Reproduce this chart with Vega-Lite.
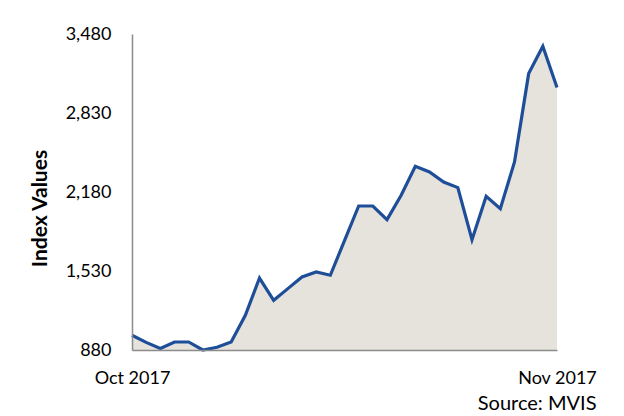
{
  "$schema": "https://vega.github.io/schema/vega-lite/v6.json",
  "width": 425,
  "height": 316,
  "autosize": "none",
  "padding": {"left": 132, "top": 34, "right": 67, "bottom": 66},
  "background": "white",
  "config": {"view": {"stroke": null}, "font": "Lato"},
  "title": {
    "text": "Source: MVIS",
    "orient": "bottom",
    "anchor": "end",
    "frame": "bounds",
    "font": "Lato",
    "fontSize": 20,
    "fontWeight": "normal",
    "color": "#000000",
    "offset": 7
  },
  "data": {
    "values": [
      {"i": 0, "value": 1001},
      {"i": 1, "value": 943},
      {"i": 2, "value": 892},
      {"i": 3, "value": 946},
      {"i": 4, "value": 946},
      {"i": 5, "value": 880},
      {"i": 6, "value": 902},
      {"i": 7, "value": 946},
      {"i": 8, "value": 1165},
      {"i": 9, "value": 1472},
      {"i": 10, "value": 1289},
      {"i": 11, "value": 1385},
      {"i": 12, "value": 1481},
      {"i": 13, "value": 1522},
      {"i": 14, "value": 1495},
      {"i": 15, "value": 1780},
      {"i": 16, "value": 2065},
      {"i": 17, "value": 2065},
      {"i": 18, "value": 1953},
      {"i": 19, "value": 2153},
      {"i": 20, "value": 2391},
      {"i": 21, "value": 2345},
      {"i": 22, "value": 2262},
      {"i": 23, "value": 2216},
      {"i": 24, "value": 1788},
      {"i": 25, "value": 2145},
      {"i": 26, "value": 2043},
      {"i": 27, "value": 2427},
      {"i": 28, "value": 3154},
      {"i": 29, "value": 3379},
      {"i": 30, "value": 3039}
    ]
  },
  "mark": {
    "type": "area",
    "color": "#E6E2DC",
    "opacity": 1,
    "line": {"color": "#1F4E99", "strokeWidth": 3.2, "strokeJoin": "miter"}
  },
  "encoding": {
    "x": {
      "field": "i",
      "type": "quantitative",
      "scale": {"domain": [0, 30], "nice": false},
      "axis": {
        "values": [0, 30],
        "labelExpr": "datum.value == 0 ? 'Oct 2017' : 'Nov 2017'",
        "title": null,
        "grid": false,
        "ticks": false,
        "domainColor": "#8C8C8C",
        "domainWidth": 1.5,
        "labelFont": "Lato",
        "labelFontSize": 18,
        "labelColor": "#000000",
        "labelPadding": 19,
        "labelFlush": false,
        "labelOverlap": false,
        "zindex": 1
      }
    },
    "y": {
      "field": "value",
      "type": "quantitative",
      "scale": {"domain": [880, 3480], "nice": false, "zero": false},
      "axis": {
        "values": [880, 1530, 2180, 2830, 3480],
        "format": ",d",
        "title": "Index Values",
        "titleFont": "Lato",
        "titleFontSize": 21,
        "titleFontWeight": "bold",
        "titleColor": "#000000",
        "titlePadding": 15,
        "titleY": 174,
        "grid": false,
        "ticks": false,
        "domainColor": "#8C8C8C",
        "domainWidth": 1.5,
        "labelFont": "Lato",
        "labelFontSize": 18,
        "labelColor": "#000000",
        "labelPadding": 21,
        "zindex": 1
      }
    },
    "y2": {"datum": 880}
  }
}
